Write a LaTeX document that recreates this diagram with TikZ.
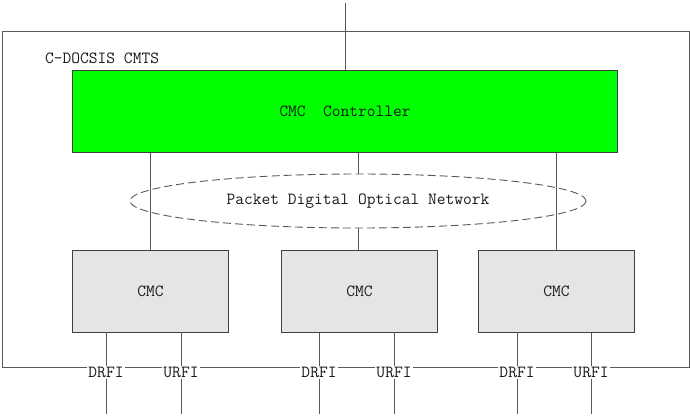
\documentclass[tikz,border=0pt]{standalone}
\begin{document}
\begin{tikzpicture}[x=1pt,y=-1pt,
  every node/.style={font=\ttfamily\fontsize{17}{19}\selectfont, text=black!90},
  ln/.style={draw=black!65, line width=0.9pt},
  boxline/.style={draw=black!75, line width=0.9pt},
  lbl/.style={fill=white, inner sep=1pt},
]
\useasboundingbox (0,0) rectangle (690,416);
% outer box
\node[boxline, ln, minimum width=687pt, minimum height=336pt, inner sep=0pt, anchor=north west] (outer) at (2,31) {};
\node[anchor=west, inner sep=0pt] (title) at (45,58) {C-DOCSIS CMTS};
% controller
\node[boxline, fill={rgb,255:red,0;green,255;blue,0}, minimum width=545pt, minimum height=82pt, inner sep=0pt, anchor=north west] (ctrl) at (72,70) {CMC\ \ Controller};
\coordinate (topend) at (345,3);
\draw[ln] (topend) -- (ctrl.north -| topend);
% network ellipse
\draw[ln, dash pattern=on 8pt off 4pt] (358,201) ellipse [x radius=228, y radius=27];
\node (net) at (358,201) {Packet Digital Optical Network};
\coordinate (etop) at (358,174);
\coordinate (ebot) at (358,228);
% CMC boxes
\foreach \n/\x in {1/72,2/281,3/478}{
  \node[boxline, fill=black!10, minimum width=156pt, minimum height=82pt, inner sep=0pt, anchor=north west] (cmc\n) at (\x,250) {CMC};
}
\coordinate (c1) at (150,0);
\coordinate (c2) at (358,0);
\coordinate (c3) at (556,0);
\draw[ln] (ctrl.south -| c1) -- (cmc1.north -| c1);
\draw[ln] (ctrl.south -| c3) -- (cmc3.north -| c3);
\draw[ln] (ctrl.south -| c2) -- (etop);
\draw[ln] (ebot) -- (cmc2.north -| c2);
% interfaces
\foreach \n/\dx/\ux in {1/106/181,2/319/394,3/517/591}{
  \node[lbl] (d\n) at (\dx,372) {DRFI};
  \node[lbl] (u\n) at (\ux,372) {URFI};
  \coordinate (de\n) at (\dx,414);
  \coordinate (ue\n) at (\ux,414);
  \draw[ln] (cmc\n.south -| d\n) -- (d\n);
  \draw[ln] (d\n) -- (de\n);
  \draw[ln] (cmc\n.south -| u\n) -- (u\n);
  \draw[ln] (u\n) -- (ue\n);
}
\end{tikzpicture}
\end{document}
